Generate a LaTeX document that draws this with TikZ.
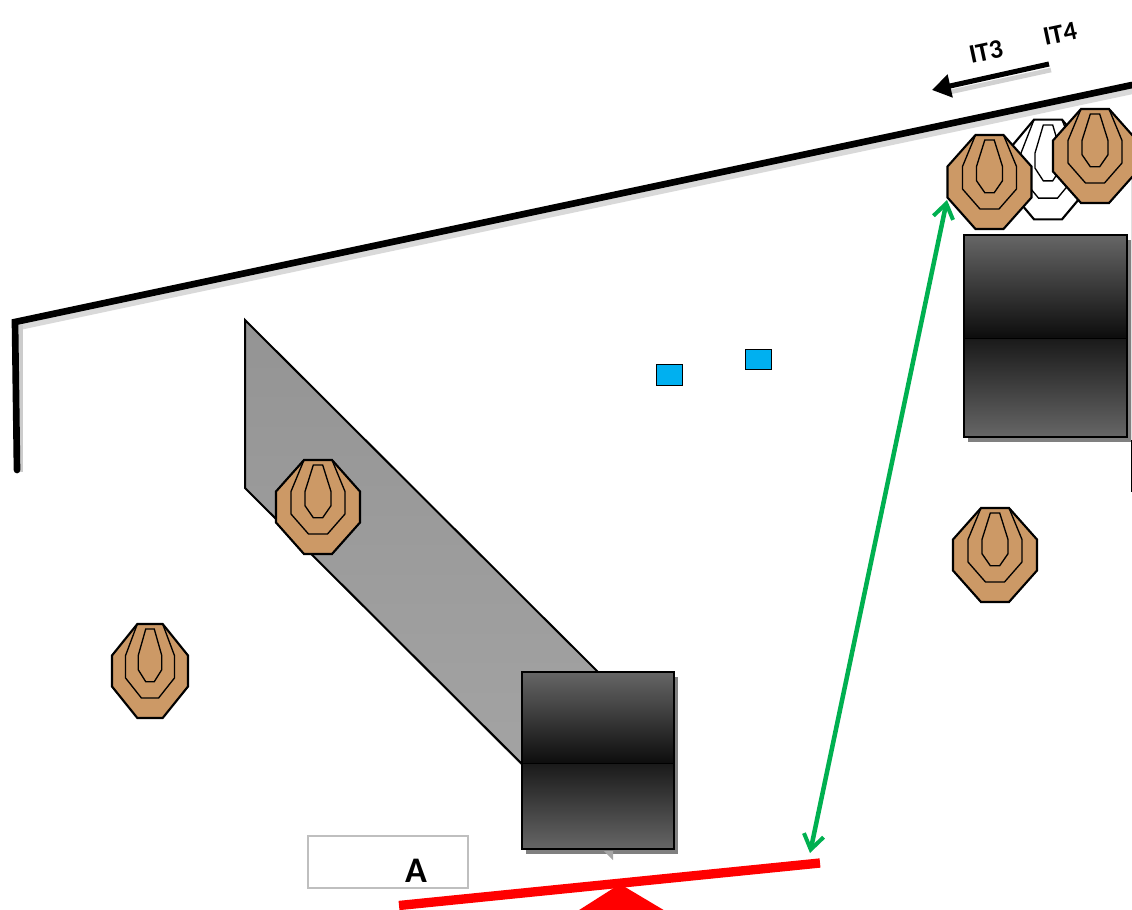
\documentclass[tikz,border=0pt]{standalone}
\usepackage{fontspec}
\setmainfont{Carlito}
\usetikzlibrary{arrows.meta}
\definecolor{tan}{HTML}{CC9966}
\definecolor{skyb}{HTML}{00B0F0}
\definecolor{grn}{HTML}{00B050}
\tikzset{
  wall/.style={line width=5pt,black},
  wallshadow/.style={line width=5pt,black!22,line cap=round},
  outl/.style={line width=1.6pt,line join=miter,draw=black},
  ring/.style={line width=1.0pt,draw=black,line join=miter},
  bluebox/.style={draw=black,line width=0.4pt,fill=skyb},
  lbl/.style={font=\bfseries\fontsize{20}{22}\selectfont,inner sep=0pt},
}
\newcommand{\target}[5]{% cx cy xscale yscale fill
  \begin{scope}[shift={(#1,#2)},xscale=#3,yscale=#4]
    \path[outl,fill=#5] (-14,-47)--(14,-47)--(42,-15.5)--(42,15.5)--(14,47)--(-14,47)--(-42,15.5)--(-42,-15.5)--cycle;
    \path[ring] (-14,-47)--(-27,-15.5)--(-27,7)--(-9.5,27)--(9.5,27)--(27,7)--(27,-15.5)--(14,-47);
    \path[ring] (-4.7,-42)--(-13,-15.5)--(-13,-1.3)--(-4.7,10.7)--(4.7,10.7)--(13,-1.3)--(13,-15.5)--(4.7,-42)--cycle;
  \end{scope}}
\newcommand{\barrier}[5]{% x1 y1 x2 y2 ymid
  \fill[black!50] (#1+4,#2+5) rectangle (#3+4,#4+5);
  \shade[top color=black!60,bottom color=black!95] (#1,#2) rectangle (#3,#5);
  \shade[top color=black!90,bottom color=black!60] (#1,#5) rectangle (#3,#4);
  \draw[black,line width=0.6pt] (#1,#5)--(#3,#5);
  \draw[black,line width=1.5pt] (#1,#2) rectangle (#3,#4);}
\begin{document}
\begin{tikzpicture}[x=0.75pt,y=-0.75pt]
\useasboundingbox (0,0) rectangle (1132,910);
\clip (0,0) rectangle (1132,910);
% wall shadows
\draw[black!15,line width=5pt] (18,327)--(1136,90);
\draw[black!20,line width=4pt] (20,325)--(20,472);
% walls
\coordinate (w0) at (15,322);
\coordinate (w1) at (1132,85);
\coordinate (w2) at (17,470);
\draw[line width=5pt,black,line cap=round,line join=miter] (w2)--(w0)--(w1);
% side line at right
\draw[black!12,line width=1pt] (1131.5,180)--(1131.5,440);
\draw[black,line width=1.5pt] (1131.5,440)--(1131.5,492);
% slanted grey barrier
\fill[black!30] (245,488)--(249,493)--(534,778)--(545,760)--cycle;
\shade[left color=black!42,right color=black!36,shading angle=0,draw=black,line width=1.5pt]
  (245,320)--(245,488)--(530,772)--(602,676)--cycle;
% fronts
\barrier{522}{672}{674}{849}{763}
\barrier{964}{235}{1127}{437}{338}
\fill[black!35] (604,851)--(613,851)--(613,860)--cycle;
% blue boxes
\path[bluebox] (656,364) rectangle (682,385);
\path[bluebox] (745,349) rectangle (771,369);
% targets
\target{318}{507}{1}{1}{tan}
\target{995}{555}{1}{1}{tan}
\target{150}{671}{0.905}{1}{tan}
\target{1048}{169.5}{1}{1.06}{white}
\target{989.5}{182}{1}{1}{tan}
\target{1095}{156}{1}{1}{tan}
% A box
\node[draw=black!25,line width=1.5pt,minimum width=120pt,minimum height=38.5pt,inner sep=0pt] (boxA) at (387.5,862) {};
\node[font=\bfseries\fontsize{27}{30}\selectfont,inner sep=0pt] (labA) at (416,871) {A};
% red shooting line
\coordinate (r1) at (399,905.5);
\coordinate (r2) at (820,863);
\fill[red] (576,912)--(620,884)--(667,912)--cycle;
\draw[red,line width=7pt] (r1)--(r2);
% green arrow
\coordinate (g1) at (947,200);
\coordinate (g2) at (810,853);
\draw[grn,line width=3.4pt,{Straight Barb[length=11pt,width=15pt,line width=3pt]}-{Straight Barb[length=11pt,width=15pt,line width=3pt]}] (g1)--(g2);
% direction arrow
\coordinate (d1) at (1049,64);
\coordinate (d2) at (932,90);
\draw[black!18,line width=3.5pt] (1051,70)--(950,92);
\draw[black,line width=3.8pt,-{Triangle[length=14pt,width=17pt]}] (d1)--(d2);
\node[lbl,rotate=12] (it3) at (986,52) {IT3};
\node[lbl,rotate=12] (it4) at (1060,34) {IT4};
\end{tikzpicture}
\end{document}
